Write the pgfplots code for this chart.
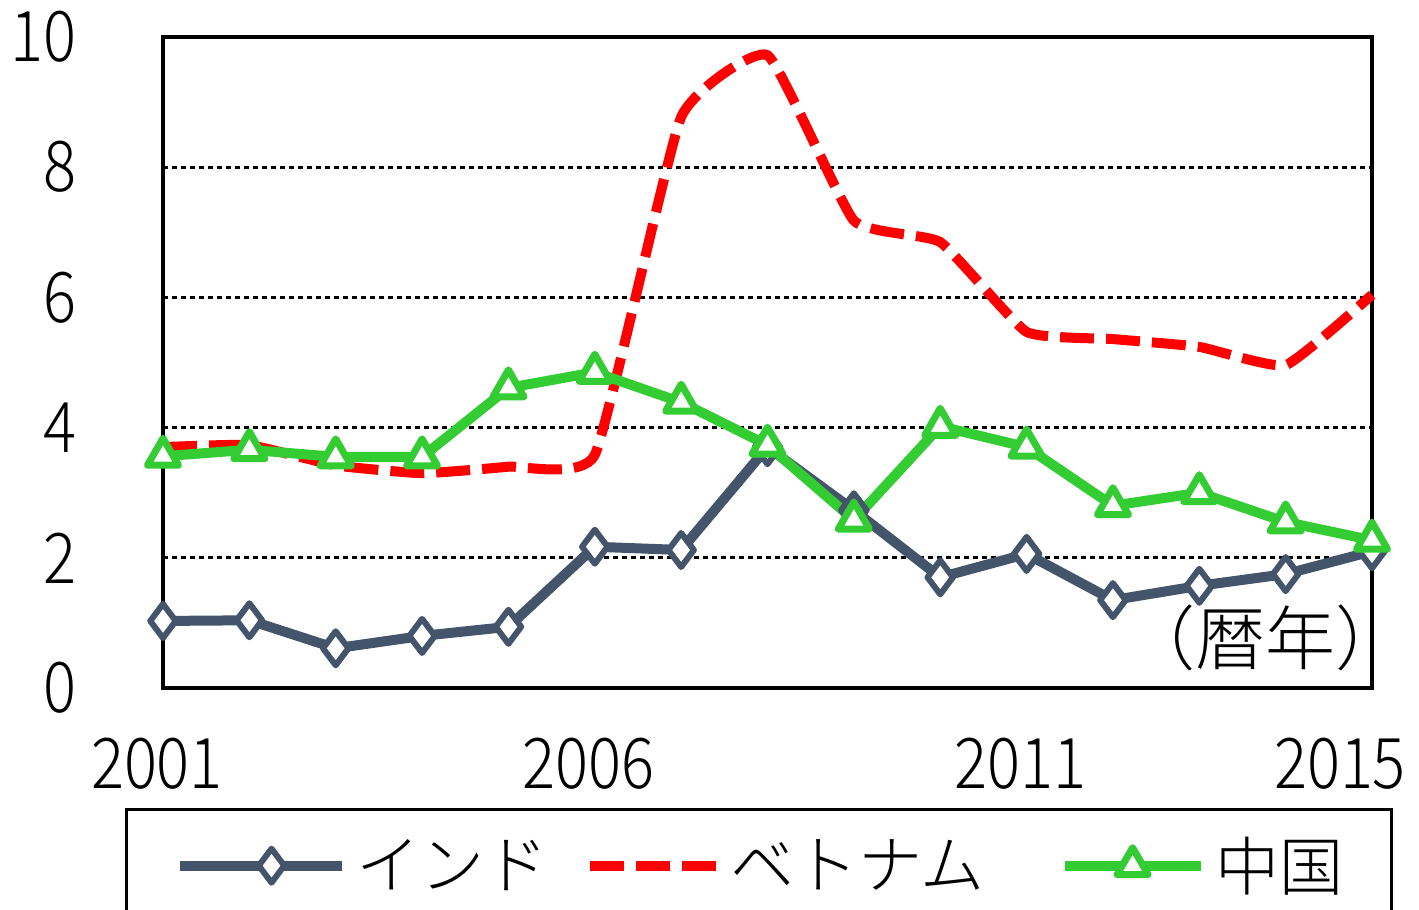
\documentclass[border=0pt]{standalone}
\usepackage{pgfplots}
\pgfplotsset{compat=1.18}
\usepackage{fontspec}
\setmainfont{Noto Sans CJK JP Light}
\newfontfamily\digitfont[FakeStretch=0.88,Numbers=Monospaced]{Noto Sans CJK JP Light}
\definecolor{india}{RGB}{68,84,106}
\definecolor{vn}{RGB}{255,0,0}
\definecolor{cn}{RGB}{51,204,51}
\begin{document}
\begin{tikzpicture}
\begin{axis}[
  at={(0pt,0pt)}, anchor=south west,
  scale only axis, width=604.5pt, height=325.5pt,
  xmin=2001, xmax=2015, ymin=0, ymax=10,
  clip=false,
  xtick={2001,2006,2011},
  extra x ticks={2015},
  extra x tick style={xticklabel style={xshift=-13pt}},
  ytick={0,2,4,6,8,10},
  ymajorgrids,
  grid style={black, line width=1.5pt, dash pattern=on 2.5pt off 2pt},
  major tick length=0pt,
  axis line style={line width=2pt},
  /pgf/number format/assume math mode=true,
  /pgf/number format/1000 sep={},
  tick label style={font=\digitfont\fontsize{35}{35}\selectfont},
  xticklabel style={anchor=north, inner sep=0pt, yshift=-25pt, xshift=-3pt},
  yticklabel style={anchor=east, inner sep=0pt, xshift=-43pt},
  legend columns=3,
  legend cell align=left,
  legend style={at={(-0.0314,-0.1843)}, anchor=north west, draw=black,
    line width=1.5pt,
    inner xsep=24pt, inner ysep=14pt,
    font=\fontsize{32}{32}\selectfont,
    nodes={inner sep=0pt},
    /tikz/every odd column/.append style={column sep=5pt},
    /tikz/column 2/.append style={column sep=18pt},
    /tikz/column 4/.append style={column sep=37.5pt}},
]
\addplot[india, line width=5pt, line join=round,
  mark=diamond*, mark size=8.5pt,
  mark options={solid, fill=white, draw=india, line width=3pt},
  legend image code/.code={\path (-11pt,0pt) -- (0pt,0pt);
    \draw[mark repeat=2,mark phase=2] plot coordinates {(0pt,0pt) (35pt,0pt) (70pt,0pt)};}]
  coordinates {
  (2001,1.03) (2002,1.04) (2003,0.61) (2004,0.80) (2005,0.94)
  (2006,2.17) (2007,2.12) (2008,3.70) (2009,2.73) (2010,1.70)
  (2011,2.06) (2012,1.35) (2013,1.57) (2014,1.75) (2015,2.10)};
\addlegendentry{インド}
\addplot[vn, line width=5pt, smooth, tension=0.25, dash pattern=on 17pt off 6pt,
  legend image code/.code={\draw (0pt,0pt) -- (63pt,0pt);}]
  coordinates {
  (2001,3.70) (2002,3.73) (2003,3.42) (2004,3.30) (2005,3.40)
  (2006,3.58) (2007,8.77) (2008,9.72) (2009,7.18) (2010,6.85)
  (2011,5.47) (2012,5.36) (2013,5.24) (2014,4.96) (2015,6.04)};
\addlegendentry{ベトナム}
\addplot[cn, line width=5pt, line join=round,
  mark=triangle*, mark size=9pt,
  mark options={solid, fill=white, draw=cn, line width=3.5pt},
  legend image code/.code={\draw[mark repeat=2,mark phase=2] plot coordinates {(0pt,0pt) (34pt,0pt) (68pt,0pt)};}]
  coordinates {
  (2001,3.56) (2002,3.66) (2003,3.55) (2004,3.55) (2005,4.61)
  (2006,4.85) (2007,4.39) (2008,3.73) (2009,2.58) (2010,4.02)
  (2011,3.70) (2012,2.80) (2013,3.00) (2014,2.55) (2015,2.27)};
\addlegendentry{中国}
\node[font=\fontsize{35}{35}\selectfont, inner sep=0pt] at (rel axis cs:0.912,0.077) {（暦年）};
\end{axis}
\pgfresetboundingbox
\path[use as bounding box] (-81.5pt,-111pt) rectangle (628pt,344pt);
\end{tikzpicture}
\end{document}
